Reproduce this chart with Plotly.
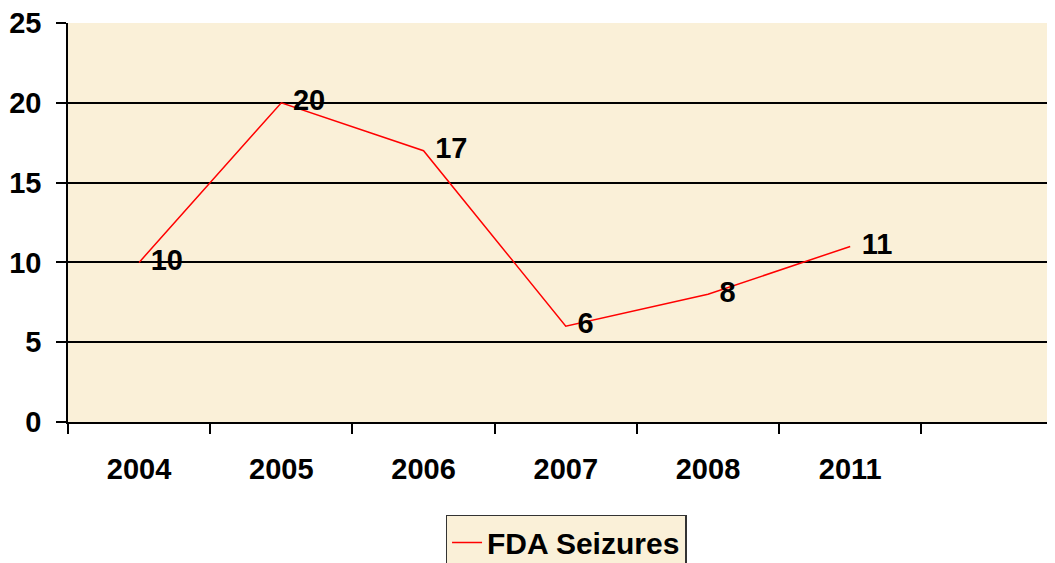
import plotly.graph_objects as go

categories = ["2004", "2005", "2006", "2007", "2008", "2011", " "]
years = ["2004", "2005", "2006", "2007", "2008", "2011"]
seizures = [10, 20, 17, 6, 8, 11]
y_ticks = [0, 5, 10, 15, 20, 25]

FONT = "Liberation Sans, Arial, sans-serif"
BG = "#FAF0D8"

fig = go.Figure()
fig.add_trace(go.Scatter(
    x=years, y=seizures, mode="lines+markers+text", name="FDA Seizures",
    line=dict(color="#FF0000", width=1.5),
    marker=dict(size=17, color="rgba(0,0,0,0)", line=dict(width=0)),
    text=[str(v) for v in seizures], textposition="middle right",
    textfont=dict(family=FONT, size=29, color="black", weight="bold"),
))

# page body has an 8px margin, so the figure is sized to fit the 1055x563 window
fig.update_layout(
    width=1047, height=555,
    margin=dict(l=60, r=0, t=15, b=141, autoexpand=False),
    paper_bgcolor="white", plot_bgcolor=BG,
    showlegend=True,
    legend=dict(
        x=0.5046, xanchor="center", y=-0.233, yanchor="top",
        bgcolor=BG, bordercolor="#333333", borderwidth=1.5,
        font=dict(family=FONT, size=30, color="black", weight="bold"),
        itemwidth=30,
    ),
)
fig.update_xaxes(
    type="category", categoryorder="array", categoryarray=categories,
    range=[-0.5, 6.44], automargin=False,
    showgrid=False, showline=True, linecolor="black", linewidth=1.5,
    ticks="outside", ticklen=10, tickcolor="black", tickwidth=1.5,
    tickson="boundaries", ticklabelstandoff=20, ticklabeloverflow="allow",
    tickfont=dict(family=FONT, size=29, color="black", weight="bold"),
)
fig.update_yaxes(
    range=[0, 25], tickvals=y_ticks, automargin=False,
    showgrid=True, gridcolor="black", gridwidth=1.5,
    showline=True, linecolor="black", linewidth=1.5,
    ticks="outside", ticklen=10, tickcolor="black", tickwidth=1.5,
    ticklabelstandoff=9, zeroline=False, ticklabeloverflow="allow",
    tickfont=dict(family=FONT, size=29, color="black", weight="bold"),
)

fig.write_html("out.html")
